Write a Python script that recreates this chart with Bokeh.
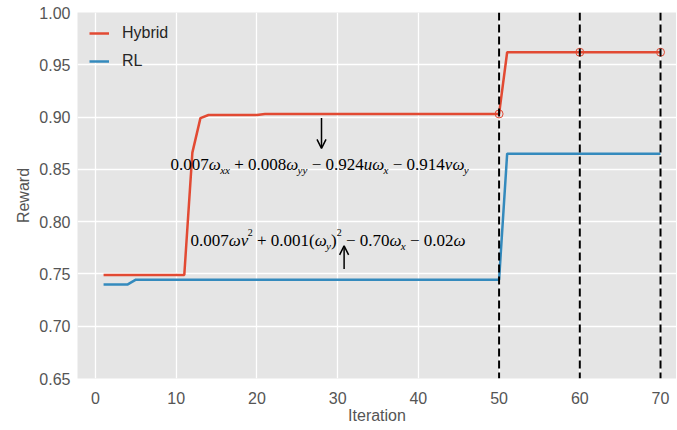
from bokeh.plotting import figure
from bokeh.models import (ColumnDataSource, Range1d, FixedTicker, Arrow, OpenHead,
                          Span, NumeralTickFormatter)
from bokeh.core.properties import value
from bokeh.embed import file_html
from bokeh.resources import INLINE

# ---------------- data ----------------
iterations = list(range(1, 71))
hybrid = [0.749, 0.749, 0.749, 0.749, 0.749, 0.749, 0.749, 0.749, 0.749, 0.749,
          0.749, 0.866, 0.899, 0.902, 0.902, 0.902, 0.902, 0.902, 0.902, 0.902,
          0.903, 0.903, 0.903, 0.903, 0.903, 0.903, 0.903, 0.903, 0.903, 0.903,
          0.903, 0.903, 0.903, 0.903, 0.903, 0.903, 0.903, 0.903, 0.903, 0.903,
          0.903, 0.903, 0.903, 0.903, 0.903, 0.903, 0.903, 0.903, 0.903, 0.903,
          0.962, 0.962, 0.962, 0.962, 0.962, 0.962, 0.962, 0.962, 0.962, 0.962,
          0.962, 0.962, 0.962, 0.962, 0.962, 0.962, 0.962, 0.962, 0.962, 0.962]
rl = [0.740, 0.740, 0.740, 0.740, 0.7445, 0.7445, 0.7445, 0.7445, 0.7445, 0.7445,
      0.7445, 0.7445, 0.7445, 0.7445, 0.7445, 0.7445, 0.7445, 0.7445, 0.7445, 0.7445,
      0.7445, 0.7445, 0.7445, 0.7445, 0.7445, 0.7445, 0.7445, 0.7445, 0.7445, 0.7445,
      0.7445, 0.7445, 0.7445, 0.7445, 0.7445, 0.7445, 0.7445, 0.7445, 0.7445, 0.7445,
      0.7445, 0.7445, 0.7445, 0.7445, 0.7445, 0.7445, 0.7445, 0.7445, 0.7445, 0.7445,
      0.865, 0.865, 0.865, 0.865, 0.865, 0.865, 0.865, 0.865, 0.865, 0.865,
      0.865, 0.865, 0.865, 0.865, 0.865, 0.865, 0.865, 0.865, 0.865, 0.865]
marked_iters = [50, 60, 70]
vline_iters = [50, 60, 70]
x_ticks = [0, 10, 20, 30, 40, 50, 60, 70]
y_ticks = [0.65, 0.70, 0.75, 0.80, 0.85, 0.90, 0.95, 1.00]

RED = "#E24A33"
BLUE = "#348ABD"
TICK = "#555555"

p = figure(width=676, height=426, output_backend="svg", toolbar_location=None,
           x_range=Range1d(-2.23, 71.98), y_range=Range1d(0.65, 1.0),
           min_border_left=77, min_border_right=0, min_border_top=12, min_border_bottom=0,
           background_fill_color="#E5E5E5", border_fill_color="white")
p.outline_line_color = None

for ax in (p.xaxis[0], p.yaxis[0]):
    ax.axis_line_color = None
    ax.major_tick_line_color = None
    ax.minor_tick_line_color = None
    ax.major_tick_out = 0
    ax.major_tick_in = 0
    ax.major_label_text_font = "Liberation Sans"
    ax.major_label_text_font_size = "16px"
    ax.major_label_text_color = TICK
    ax.axis_label_text_font = "Liberation Sans"
    ax.axis_label_text_font_size = "16px"
    ax.axis_label_text_font_style = "normal"
    ax.axis_label_text_color = TICK

p.xaxis.ticker = FixedTicker(ticks=x_ticks)
p.yaxis.ticker = FixedTicker(ticks=y_ticks)
p.yaxis.formatter = NumeralTickFormatter(format="0.00")
p.xaxis.axis_label = "Iteration"
p.yaxis.axis_label = "Reward"
p.xaxis.major_label_standoff = 13
p.xaxis.axis_label_standoff = 0
p.yaxis.major_label_standoff = 7
p.yaxis.axis_label_standoff = 4

p.xgrid.grid_line_color = "white"
p.ygrid.grid_line_color = "white"
p.xgrid.grid_line_width = 1.3
p.ygrid.grid_line_width = 1.3

# dashed vertical lines
for v in vline_iters:
    p.add_layout(Span(location=v, dimension="height", line_color="black",
                      line_dash="8 4", line_width=2))

p.line(iterations, hybrid, color=RED, line_width=2.5, legend_label="Hybrid")
p.line(iterations, rl, color=BLUE, line_width=2.5, legend_label="RL")
p.scatter(x=marked_iters, y=[hybrid[iterations.index(i)] for i in marked_iters],
          marker="circle", size=8, fill_color=None, line_color=RED, line_width=1)

# ---------------- formula annotations ----------------
FS, SUB, SUP = 17, 11, 10
REG_W = {'0': .5, '1': .5, '2': .5, '3': .5, '4': .5, '5': .5, '6': .5, '7': .5,
         '8': .5, '9': .5, '.': .25, ' ': .25, '+': .564, '\u2212': .564,
         '(': .333, ')': .333}
ITA_W = {'\u03c9': .67, 'u': .5, 'v': .444, 'x': .444, 'y': .444}

STYLES = {  # font style, size, y offset (px, + is down)
    "r": ("normal", FS, 0),
    "i": ("italic", FS, 0),
    "sub": ("italic", SUB, 5),
    "sup": ("normal", SUP, -8),
}

formula1 = [("r", "0.007"), ("i", "\u03c9"), ("sub", "xx"), ("r", " + 0.008"),
            ("i", "\u03c9"), ("sub", "yy"), ("r", " \u2212 0.924"), ("i", "u\u03c9"),
            ("sub", "x"), ("r", " \u2212 0.914"), ("i", "v\u03c9"), ("sub", "y")]
formula2 = [("r", "0.007"), ("i", "\u03c9v"), ("sup", "2"), ("r", " + 0.001("),
            ("i", "\u03c9"), ("sub", "y"), ("r", ")"), ("sup", "2"),
            ("r", " \u2212 0.70"), ("i", "\u03c9"), ("sub", "x"),
            ("r", " \u2212 0.02"), ("i", "\u03c9")]


def seg_width(style, txt):
    size = STYLES[style][1]
    table = ITA_W if style in ("i", "sub") else REG_W
    return sum(table.get(c, REG_W.get(c, 0.5)) for c in txt) * size


cols = {k: dict(x=[], y=[], text=[], xo=[], yo=[]) for k in STYLES}
for (ax_x, ax_y, segs) in [(9.29, 0.8545, formula1), (11.77, 0.7815, formula2)]:
    off = 0.0
    for style, txt in segs:
        lead = len(txt) - len(txt.lstrip(" "))
        w = seg_width(style, txt)
        c = cols[style]
        c["x"].append(ax_x)
        c["y"].append(ax_y)
        c["text"].append(txt.strip(" "))
        c["xo"].append(off + lead * 0.25 * STYLES[style][1])
        c["yo"].append(STYLES[style][2])
        off += w

for style, c in cols.items():
    if not c["x"]:
        continue
    fstyle, size, _ = STYLES[style]
    p.text(x="x", y="y", text="text", x_offset="xo", y_offset="yo",
           source=ColumnDataSource(c), text_font=value("Liberation Serif"),
           text_font_style=fstyle, text_font_size=f"{size}px",
           text_align="left", text_baseline="alphabetic", text_color="black")

p.add_layout(Arrow(end=OpenHead(size=9, line_width=1.5, line_color="black"),
                   x_start=28.0, y_start=0.899, x_end=28.0, y_end=0.870,
                   line_width=1.5, line_color="black"))
p.add_layout(Arrow(end=OpenHead(size=9, line_width=1.5, line_color="black"),
                   x_start=30.8, y_start=0.7546, x_end=30.8, y_end=0.7768,
                   line_width=1.5, line_color="black"))

# ---------------- legend ----------------
lg = p.legend[0]
lg.location = "top_left"
lg.border_line_color = None
lg.background_fill_alpha = 0
lg.label_text_font = "Liberation Sans"
lg.label_text_font_size = "16px"
lg.label_text_color = "#262626"
lg.glyph_width = 20
lg.glyph_height = 16
lg.label_height = 16
lg.label_standoff = 13
lg.spacing = 10
lg.margin = 12
lg.padding = 14

open("out.html", "w").write(file_html(p, INLINE))
